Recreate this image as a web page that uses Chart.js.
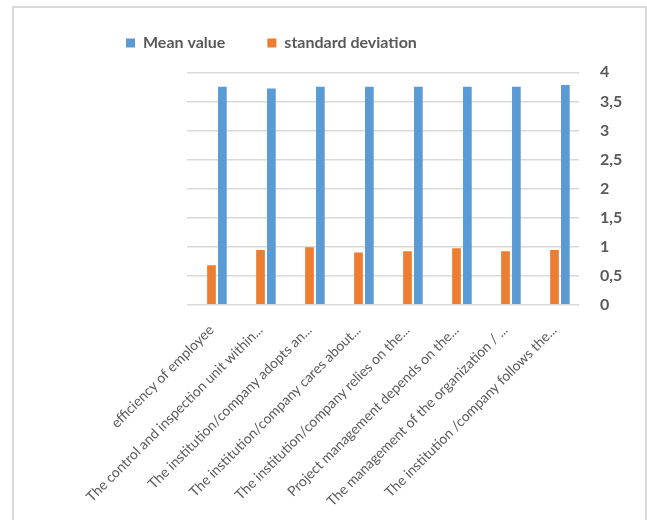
<!DOCTYPE html>
<html>
<head>
<meta charset="utf-8">
<script src="https://cdn.jsdelivr.net/npm/chart.js@4.4.1/dist/chart.umd.min.js"></script>
<style>
  html, body { margin: 0; padding: 0; background: #ffffff; }
  #wrap { position: relative; width: 647px; height: 520px; overflow: hidden; }
  #frame {
    position: absolute; left: 12px; top: 6px; width: 631px; height: 600px;
    border: 2px solid #d9d9d9; border-bottom: none;
  }
  #chart { position: absolute; left: 0; top: 0; }
</style>
</head>
<body>
<div id="wrap">
  <div id="frame"></div>
  <canvas id="chart" width="647" height="520"></canvas>
</div>
<script>
// Survey items (axis labels are shortened with an ellipsis)
const categories = [
  'efficiency of employee',
  'The control and inspection unit within...',
  'The institution/company adopts an...',
  'The institution/company cares about...',
  'The institution/company relies on the...',
  'Project management depends on the...',
  'The management of the organization / ...',
  'The institution /company follows the...'
];

const meanValues = [3.75, 3.72, 3.75, 3.75, 3.75, 3.75, 3.75, 3.78];
const stdDeviations = [0.68, 0.94, 0.99, 0.90, 0.92, 0.97, 0.92, 0.94];

// value axis: 0 .. 4 in steps of 0.5, decimal comma
const yTickValues = [0, 0.5, 1, 1.5, 2, 2.5, 3, 3.5, 4];

const seriesNames = ['Mean value', 'standard deviation'];
const seriesColors = ['#5b9bd5', '#ed7d31'];

const textGrey = '#595959';
const gridGrey = '#d9d9d9';
const FONT = 'Lato, "Open Sans", "DejaVu Sans", sans-serif';
const LEGEND_SIZE = 16;

// Place the legend row at a fixed spot above the plot
const legendPlacement = {
  id: 'legendPlacement',
  afterLayout(chart) {
    const lg = chart.legend;
    const pad = lg.options.labels.padding;
    const w = lg.right - lg.left;
    const h = lg.bottom - lg.top;
    lg.left = 126 - pad;
    lg.right = lg.left + w;
    lg.top = 43 - pad - LEGEND_SIZE / 2;
    lg.bottom = lg.top + h;
  }
};

new Chart(document.getElementById('chart'), {
  type: 'bar',
  data: {
    labels: categories,
    datasets: [
      // empty leading slot in each group (keeps the pair right of centre)
      { label: '', data: [], backgroundColor: 'rgba(0,0,0,0)' },
      { label: seriesNames[1], data: stdDeviations, backgroundColor: seriesColors[1] },
      { label: seriesNames[0], data: meanValues, backgroundColor: seriesColors[0] }
    ]
  },
  options: {
    responsive: false,
    animation: false,
    events: [],
    layout: { padding: { left: 187, right: 20, top: 12.3, bottom: 0 } },
    datasets: {
      bar: { categoryPercentage: 0.665, barPercentage: 0.8 }
    },
    plugins: {
      legend: {
        position: 'top',
        align: 'start',
        reverse: true,
        maxHeight: 60,
        labels: {
          filter: (item) => item.text !== '',
          boxWidth: 9,
          boxHeight: 9,
          padding: 42,
          color: textGrey,
          font: { family: FONT, size: LEGEND_SIZE, weight: 'bold' }
        }
      },
      tooltip: { enabled: false }
    },
    scales: {
      x: {
        grid: { display: false },
        border: { display: false },
        ticks: {
          autoSkip: false,
          maxRotation: 45,
          minRotation: 45,
          padding: 9,
          color: textGrey,
          font: { family: FONT, size: 14 }
        },
        afterFit(scale) {
          scale.height = 215.3;
          scale.paddingLeft = 0;
          scale.paddingRight = 0;
        }
      },
      y: {
        position: 'right',
        min: yTickValues[0],
        max: yTickValues[yTickValues.length - 1],
        afterBuildTicks(scale) {
          scale.ticks = yTickValues.map(v => ({ value: v }));
        },
        grid: { color: gridGrey, lineWidth: 1.5, drawTicks: false },
        border: { display: false },
        ticks: {
          padding: 21,
          color: textGrey,
          font: { family: FONT, size: 16, weight: 'bold' },
          callback: (v) => String(v).replace('.', ',')
        },
        afterFit(scale) {
          scale.width = 48;
        }
      }
    }
  },
  plugins: [legendPlacement]
});
</script>
</body>
</html>
